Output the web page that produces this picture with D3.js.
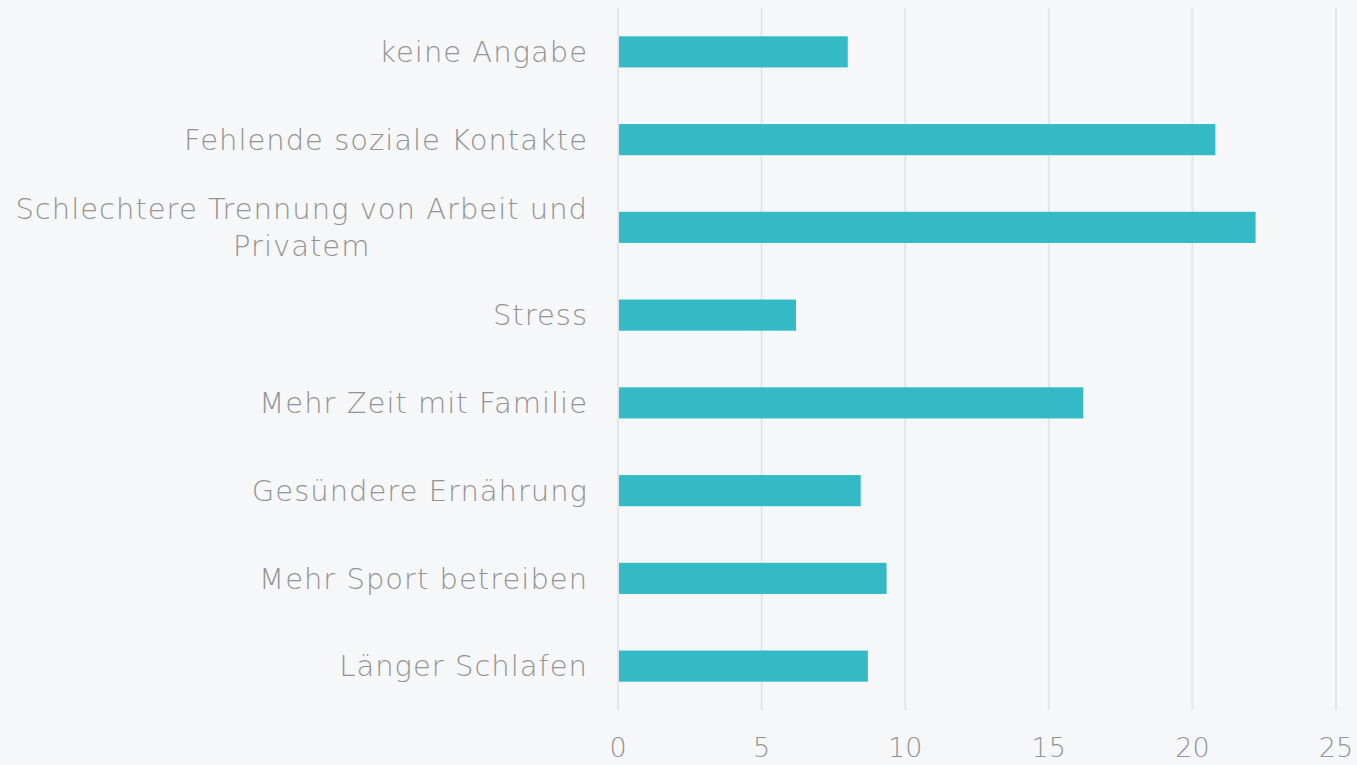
<!DOCTYPE html>
<html>
<head>
<meta charset="utf-8">
<script src="https://cdn.jsdelivr.net/npm/d3@7"></script>
<style>
  html, body { margin: 0; padding: 0; background: #f6f7f9; }
  svg { display: block; }
  text { font-family: "DejaVu Sans", "Lato", sans-serif; font-weight: 200; fill: #939393; }
</style>
</head>
<body>
<div id="chart"></div>
<script>
// categories top to bottom
const categories = [
  "keine Angabe",
  "Fehlende soziale Kontakte",
  "Schlechtere Trennung von Arbeit und Privatem",
  "Stress",
  "Mehr Zeit mit Familie",
  "Gesündere Ernährung",
  "Mehr Sport betreiben",
  "Länger Schlafen"
];
const values = [8.0, 20.8, 22.2, 6.2, 16.2, 8.45, 9.35, 8.7];
const xTicks = [0, 5, 10, 15, 20, 25];

const width = 1357, height = 765;
const margin = { top: 8, right: 21, bottom: 55, left: 618 };
const fontSize = "29px";
const spacing = "1px";

const svg = d3.select("#chart").append("svg")
    .attr("width", width)
    .attr("height", height);

const x = d3.scaleLinear()
    .domain([0, 25])
    .range([margin.left, width - margin.right]);

const y = d3.scaleBand()
    .domain(categories)
    .range([margin.top, height - margin.bottom])
    .paddingInner(0.645)
    .paddingOuter(0.3225);

// gridlines
svg.append("g")
    .selectAll("line")
    .data(xTicks)
    .join("line")
    .attr("x1", d => x(d))
    .attr("x2", d => x(d))
    .attr("y1", margin.top)
    .attr("y2", height - margin.bottom)
    .attr("stroke", "#e4e5e7")
    .attr("stroke-width", 2);

// bars
svg.append("g")
    .selectAll("rect")
    .data(values)
    .join("rect")
    .attr("x", x(0) + 1)
    .attr("y", (d, i) => y(categories[i]))
    .attr("width", d => x(d) - x(0) - 1)
    .attr("height", y.bandwidth())
    .attr("fill", "#34bac7");

// x tick labels
svg.append("g")
    .selectAll("text")
    .data(xTicks)
    .join("text")
    .attr("x", d => x(d))
    .attr("y", 757)
    .attr("text-anchor", "middle")
    .style("font-size", "27px")
    .text(d => d);

// category labels, wrapped and centred within a right-aligned block
const maxW = 600;
const lineH = 37;
const labels = svg.append("g");

categories.forEach((c, i) => {
  const cy = y(c) + y.bandwidth() / 2;
  const g = labels.append("g");
  const words = c.split(" ");
  const lines = [];
  let cur = [];
  const probe = g.append("text").style("font-size", fontSize).style("letter-spacing", spacing);
  words.forEach(w => {
    cur.push(w);
    probe.text(cur.join(" "));
    if (probe.node().getComputedTextLength() > maxW && cur.length > 1) {
      cur.pop();
      lines.push(cur.join(" "));
      cur = [w];
    }
  });
  lines.push(cur.join(" "));
  probe.remove();

  const t = g.append("text")
      .style("font-size", fontSize)
      .style("letter-spacing", spacing)
      .attr("text-anchor", "middle");
  lines.forEach((l, k) => {
    t.append("tspan")
      .attr("x", 0)
      .attr("y", cy + (k - (lines.length - 1) / 2) * lineH)
      .attr("dy", "0.35em")
      .text(l);
  });
  const bw = t.node().getBBox().width;
  g.attr("transform", `translate(${588 - bw / 2},0)`);
});
</script>
</body>
</html>
